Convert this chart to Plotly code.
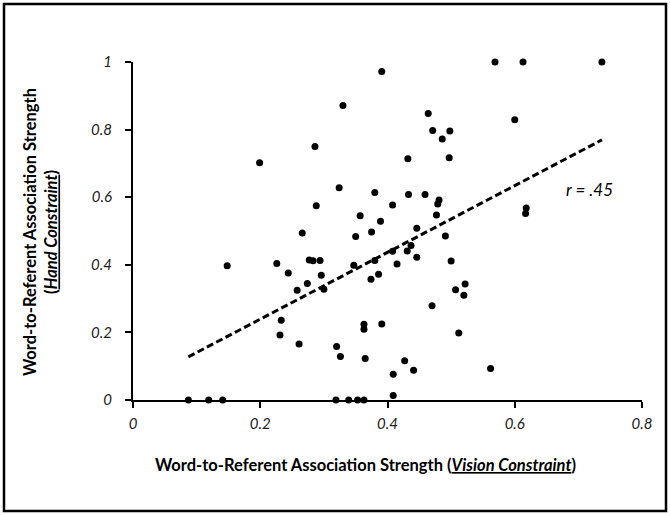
import numpy as np
import plotly.graph_objects as go

# Word-to-referent association strengths
vision = [0.087, 0.119, 0.141, 0.148, 0.199, 0.226, 0.231, 0.233, 0.244, 0.258,
          0.261, 0.266, 0.274, 0.277, 0.283, 0.286, 0.288, 0.294, 0.296, 0.300,
          0.319, 0.320, 0.324, 0.326, 0.330, 0.339, 0.347, 0.350, 0.353, 0.357,
          0.363, 0.363, 0.363, 0.365, 0.374, 0.375, 0.380, 0.380, 0.386, 0.389,
          0.391, 0.391, 0.408, 0.408, 0.409, 0.409, 0.415, 0.427, 0.431, 0.432,
          0.433, 0.437, 0.441, 0.446, 0.446, 0.459, 0.464, 0.470, 0.471, 0.477,
          0.479, 0.481, 0.486, 0.491, 0.497, 0.498, 0.500, 0.507, 0.512, 0.520,
          0.522, 0.562, 0.569, 0.600, 0.613, 0.617, 0.618, 0.737]
hand = [0.0, 0.0, 0.0, 0.397, 0.702, 0.404, 0.192, 0.236, 0.376, 0.325,
        0.166, 0.494, 0.345, 0.414, 0.412, 0.750, 0.575, 0.413, 0.369, 0.328,
        0.0, 0.158, 0.628, 0.129, 0.871, 0.0, 0.399, 0.484, 0.0, 0.545,
        0.0, 0.224, 0.209, 0.123, 0.357, 0.497, 0.614, 0.413, 0.372, 0.529,
        0.972, 0.225, 0.577, 0.440, 0.076, 0.013, 0.402, 0.116, 0.441, 0.714,
        0.608, 0.457, 0.088, 0.508, 0.422, 0.608, 0.848, 0.279, 0.797, 0.547,
        0.580, 0.592, 0.772, 0.485, 0.717, 0.796, 0.411, 0.326, 0.198, 0.310,
        0.343, 0.093, 1.0, 0.829, 1.0, 0.552, 0.568, 1.0]

x_ticks = [0, 0.2, 0.4, 0.6, 0.8]
x_tick_labels = ["0", "0.2", "0.4", "0.6", "0.8"]
y_ticks = [0, 0.2, 0.4, 0.6, 0.8, 1.0]
y_tick_labels = ["0", "0.2", "0.4", "0.6", "0.8", "1"]
r_label = "r = .45"

xv = np.array(vision)
yv = np.array(hand)
slope, intercept = np.polyfit(xv, yv, 1)
fit_x = np.array([xv.min(), xv.max()])
fit_y = slope * fit_x + intercept

FONT = "Lato"
W, H = 670, 515
L, R, T, B = 133, 28, 62, 115

fig = go.Figure()
fig.add_trace(go.Scatter(
    x=fit_x, y=fit_y, mode="lines",
    line=dict(color="black", width=3, dash="7px,3.5px"),
    hoverinfo="skip", showlegend=False, cliponaxis=False))
fig.add_trace(go.Scatter(
    x=vision, y=hand, mode="markers",
    marker=dict(color="black", size=7),
    showlegend=False, cliponaxis=False))

pw = W - L - R
ph = H - T - B
def px_to_paper_x(px):
    return (px - L) / pw
def py_to_paper_y(py):
    return (H - B - py) / ph

fig.add_shape(type="rect", xref="paper", yref="paper",
              x0=px_to_paper_x(4), x1=px_to_paper_x(666),
              y0=py_to_paper_y(511), y1=py_to_paper_y(4),
              line=dict(color="black", width=2.5))

fig.add_annotation(text="<i>" + r_label + "</i>", x=0.718, y=0.624,
                   xref="x", yref="y", showarrow=False,
                   xanchor="center", yanchor="middle",
                   font=dict(family=FONT, size=17, color="black"))
fig.add_annotation(
    text="<b>Word-to-Referent Association Strength (<i><u>Vision Constraint</u></i>)</b>",
    xref="paper", yref="paper", x=px_to_paper_x(365), y=py_to_paper_y(465),
    xanchor="center", yanchor="middle",
    showarrow=False, font=dict(family=FONT, size=16.5, color="black"))
fig.add_annotation(
    text="<b>Word-to-Referent Association Strength<br>(<i><u>Hand Constraint</u></i>)</b>",
    xref="paper", yref="paper", x=px_to_paper_x(40), y=py_to_paper_y(232),
    xanchor="center", yanchor="middle",
    textangle=-90, showarrow=False,
    font=dict(family=FONT, size=16.5, color="black"))

fig.update_layout(
    width=W, height=H,
    margin=dict(l=L, r=R, t=T, b=B),
    paper_bgcolor="white", plot_bgcolor="white",
    font=dict(family=FONT, color="black"),
    xaxis=dict(range=[0, 0.8], tickvals=x_ticks, ticktext=x_tick_labels,
               showgrid=False, zeroline=False, showline=True,
               linecolor="black", linewidth=2, ticks="outside",
               ticklen=6, tickwidth=2, tickcolor="black",
               tickfont=dict(family=FONT, size=15, color="#222", style="italic"),
               ticklabelstandoff=3),
    yaxis=dict(range=[0, 1], tickvals=y_ticks, ticktext=y_tick_labels,
               showgrid=False, zeroline=False, showline=True,
               linecolor="black", linewidth=2, ticks="outside",
               ticklen=6, tickwidth=2, tickcolor="black",
               tickfont=dict(family=FONT, size=15, color="#222", style="italic"),
               ticklabelstandoff=10),
)

fig.write_html("out.html", config={"displayModeBar": False},
               post_script="document.body.style.margin='0';document.body.style.overflow='hidden';")
